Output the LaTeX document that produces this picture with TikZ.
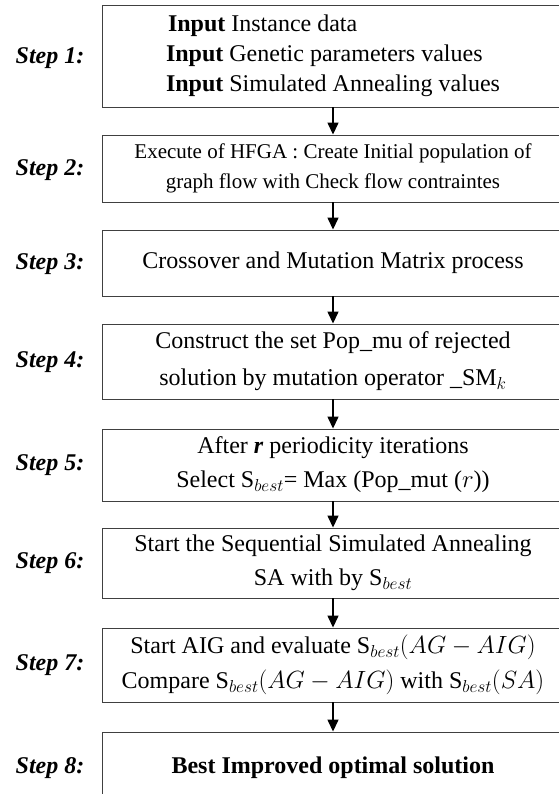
\documentclass[tikz,border=0pt]{standalone}
\usepackage{fontspec}
\setmainfont{Liberation Serif}
\usepackage{tikz}
\usetikzlibrary{arrows.meta}

\begin{document}
\begin{tikzpicture}[x=1pt,y=-1pt,
  box/.style={rectangle,draw=black!75,line width=0.9pt,minimum width=462pt,
    align=center,font=\fontsize{24}{34}\selectfont,inner sep=0pt},
  steplabel/.style={font=\fontsize{24}{28}\selectfont\bfseries\itshape},
  flow/.style={-{Triangle[length=12pt,width=11pt]},line width=1.4pt}]
\useasboundingbox (0,0) rectangle (558,794);
% boxes
\node [box,minimum height=102pt,align=left,font=\fontsize{24}{30}\selectfont] (s1) at (333,56)
  {\hspace*{2pt}\textbf{Input} Instance data\\
   \textbf{Input} Genetic parameters values\\
   \textbf{Input} Simulated Annealing values};
\node [box,minimum height=67pt,font=\fontsize{21}{30}\selectfont] (s2) at (333,168.5)
  {Execute of HFGA : Create Initial population of\\
   graph flow with Check flow contraintes};
\node [box,minimum height=66pt] (s3) at (333,263) {Crossover and Mutation Matrix process};
\node [box,minimum height=75pt,font=\fontsize{24}{37}\selectfont] (s4) at (333,361.5)
  {Construct the set Pop\_mu of rejected\\ solution by mutation operator \_SM$_k$};
\node [box,minimum height=72pt] (s5) at (333,465)
  {After \textbf{\textit{r}} periodicity iterations\\ Select S$_{best}$= Max (Pop\_mut ($r$))};
\node [box,minimum height=70pt] (s6) at (333,563)
  {Start the Sequential Simulated Annealing\\ SA with by S$_{best}$};
\node [box,minimum height=74pt,font=\fontsize{24}{35}\selectfont] (s7) at (333,665)
  {Start AIG and evaluate S$_{best}(AG-AIG)$\\
   Compare S$_{best}(AG-AIG)$ with S$_{best}(SA)$};
\node [box,minimum height=72pt] (s8) at (333,768) {\textbf{Best Improved optimal solution}};
% labels
\node [steplabel] (l1) at (50,58) {Step 1:};
\node [steplabel] (l2) at (50,170) {Step 2:};
\node [steplabel] (l3) at (50,264) {Step 3:};
\node [steplabel] (l4) at (50,362) {Step 4:};
\node [steplabel] (l5) at (50,465) {Step 5:};
\node [steplabel] (l6) at (50,563) {Step 6:};
\node [steplabel] (l7) at (50,665) {Step 7:};
\node [steplabel] (l8) at (50,768) {Step 8:};
% arrows
\foreach \a/\b in {s1/s2,s2/s3,s3/s4,s4/s5,s5/s6,s6/s7,s7/s8}
  \draw [flow] (\a) -- (\b);
\end{tikzpicture}
\end{document}
